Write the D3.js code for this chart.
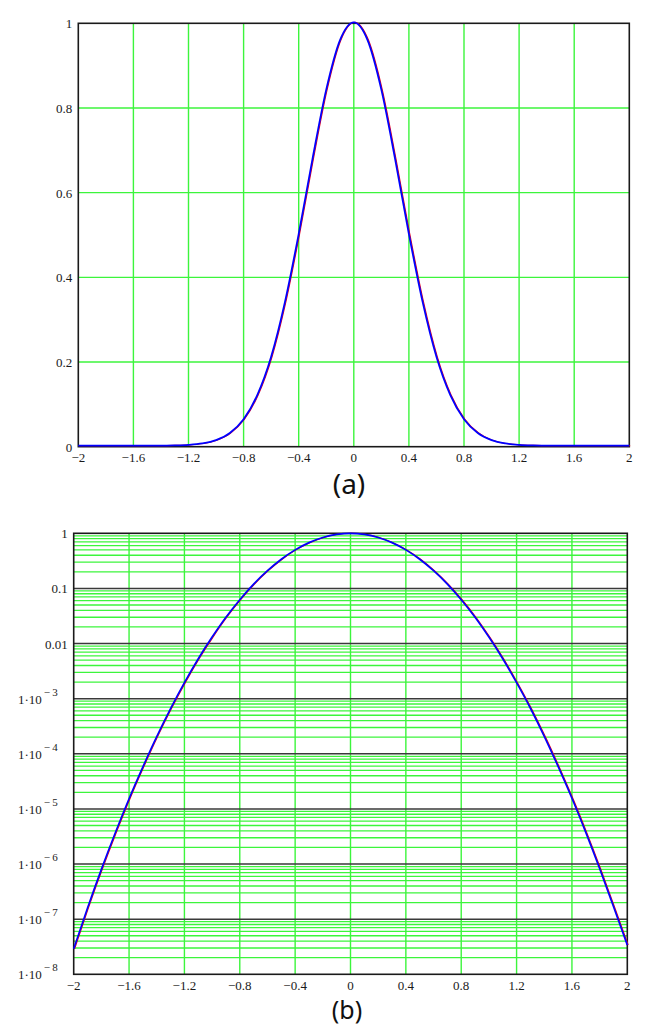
<!DOCTYPE html>
<meta charset='utf-8'>
<style>
	body { margin: 0; background: #fff; }
	svg { display: block; }
	.tick-label { font-family: 'Liberation Serif', serif; font-size: 13px; fill: #1a1a1a; }
	.caption { font-family: 'Noto Sans', 'Open Sans', sans-serif; font-size: 28px; fill: #111; }
</style>
<body>
	<div id='container'></div>
<script src='https://d3js.org/d3.v7.min.js'></script>
<script>
	// x positions of the readings (same for both panels)
	const xVals = [
		-2.0, -1.9, -1.8, -1.7, -1.6, -1.5, -1.4, -1.3, -1.2, -1.1, -1.0,
		-0.9, -0.8, -0.7, -0.6, -0.5, -0.4, -0.3, -0.2, -0.1, 0.0,
		0.1, 0.2, 0.3, 0.4, 0.5, 0.6, 0.7, 0.8, 0.9, 1.0,
		1.1, 1.2, 1.3, 1.4, 1.5, 1.6, 1.7, 1.8, 1.9, 2.0,
	];
	// curve values (linear top, log bottom)
	const yVals = [
		2.9e-8, 1.6e-7, 8.0e-7, 3.65e-6, 1.53e-5, 5.8e-5, 2.05e-4, 6.6e-4, 1.95e-3, 5.3e-3, 0.0131,
		0.030, 0.0625, 0.120, 0.210, 0.339, 0.500, 0.677, 0.841, 0.958, 1.0,
		0.958, 0.841, 0.677, 0.500, 0.339, 0.210, 0.120, 0.0625, 0.030, 0.0131,
		5.3e-3, 1.95e-3, 6.7e-4, 2.08e-4, 5.9e-5, 1.56e-5, 3.75e-6, 8.3e-7, 1.7e-7, 3.4e-8,
	];

	const xTicks = [ -2, -1.6, -1.2, -0.8, -0.4, 0, 0.4, 0.8, 1.2, 1.6, 2 ];
	const xTickLabels = [ '\u22122', '\u22121.6', '\u22121.2', '\u22120.8', '\u22120.4', '0', '0.4', '0.8', '1.2', '1.6', '2' ];
	const linTicks = [ 0, 0.2, 0.4, 0.6, 0.8, 1 ];
	const linTickLabels = [ '0', '0.2', '0.4', '0.6', '0.8', '1' ];
	const logDecades = [ 1, 0.1, 0.01, 1e-3, 1e-4, 1e-5, 1e-6, 1e-7, 1e-8 ];
	const logTickLabels = [ '1', '0.1', '0.01', '-3', '-4', '-5', '-6', '-7', '-8' ];
	const minorMults = [ 2, 3, 4, 5, 6, 7, 8, 9 ];

	const W = 648, H = 1026;
	const green = '#3cf53c', frame = '#1a1a1a', major = '#3a3a3a';

	const points = xVals.map( ( x, i ) => ( { x: x, y: yVals[ i ] } ) );

	const svg = d3.select( '#container' )
		.append( 'svg' )
		.attr( 'width', W )
		.attr( 'height', H );

	// ---------- panel (a): linear ----------
	const a = { left: 78.3, right: 629.3, top: 23.3, bottom: 446.7 };
	const xA = d3.scaleLinear().domain( [-2, 2] ).range( [a.left, a.right] );
	const yA = d3.scaleLinear().domain( [0, 1] ).range( [a.bottom, a.top] );

	const gA = svg.append( 'g' ).attr( 'class', 'panel-a' );

	gA.selectAll( '.vgrid' )
		.data( xTicks.slice( 1, -1 ) )
		.enter().append( 'line' )
			.attr( 'x1', d => xA( d ) ).attr( 'x2', d => xA( d ) )
			.attr( 'y1', a.top ).attr( 'y2', a.bottom )
			.style( 'stroke', green ).style( 'stroke-width', 1.4 );

	gA.selectAll( '.hgrid' )
		.data( linTicks.slice( 1, -1 ) )
		.enter().append( 'line' )
			.attr( 'x1', a.left ).attr( 'x2', a.right )
			.attr( 'y1', d => yA( d ) ).attr( 'y2', d => yA( d ) )
			.style( 'stroke', green ).style( 'stroke-width', 1.4 );

	gA.append( 'rect' )
		.attr( 'x', a.left ).attr( 'y', a.top )
		.attr( 'width', a.right - a.left ).attr( 'height', a.bottom - a.top )
		.style( 'fill', 'none' ).style( 'stroke', frame ).style( 'stroke-width', 1.6 );

	const lineA = d3.line()
		.curve( d3.curveMonotoneX )
		.x( d => xA( d.x ) )
		.y( d => yA( d.y ) );

	gA.append( 'path' )
		.attr( 'd', lineA( points ) )
		.attr( 'transform', 'translate( 0.9, -1 )' )
		.style( 'fill', 'none' ).style( 'stroke', '#e8001a' ).style( 'stroke-width', 1.1 );
	gA.append( 'path' )
		.attr( 'd', lineA( points ) )
		.attr( 'transform', 'translate( 0, -1 )' )
		.style( 'fill', 'none' ).style( 'stroke', '#0000ff' ).style( 'stroke-width', 1.8 );

	gA.selectAll( '.ylab' )
		.data( linTicks )
		.enter().append( 'text' )
			.attr( 'class', 'tick-label' )
			.attr( 'x', a.left - 6 )
			.attr( 'y', d => yA( d ) + 5 )
			.style( 'text-anchor', 'end' )
			.text( ( d, i ) => linTickLabels[ i ] );

	gA.selectAll( '.xlab' )
		.data( xTicks )
		.enter().append( 'text' )
			.attr( 'class', 'tick-label' )
			.attr( 'x', d => xA( d ) )
			.attr( 'y', a.bottom + 15 )
			.style( 'text-anchor', 'middle' )
			.text( ( d, i ) => xTickLabels[ i ] );

	svg.append( 'text' )
		.attr( 'class', 'caption' )
		.attr( 'x', 349 ).attr( 'y', 494 )
		.style( 'text-anchor', 'middle' )
		.text( '(a)' );

	// ---------- panel (b): log ----------
	const b = { left: 73.7, right: 627.3, top: 533.3, bottom: 974.3 };
	const xB = d3.scaleLinear().domain( [-2, 2] ).range( [b.left, b.right] );
	const yB = d3.scaleLog().domain( [1e-8, 1] ).range( [b.bottom, b.top] );

	const gB = svg.append( 'g' ).attr( 'class', 'panel-b' );

	let minors = [];
	logDecades.slice( 1 ).forEach( dec => {
		minorMults.forEach( m => minors.push( dec * m ) );
	} );

	gB.selectAll( '.minor' )
		.data( minors )
		.enter().append( 'line' )
			.attr( 'x1', b.left ).attr( 'x2', b.right )
			.attr( 'y1', d => yB( d ) ).attr( 'y2', d => yB( d ) )
			.style( 'stroke', green ).style( 'stroke-width', 1.3 );

	gB.selectAll( '.vgrid' )
		.data( xTicks.slice( 1, -1 ) )
		.enter().append( 'line' )
			.attr( 'x1', d => xB( d ) ).attr( 'x2', d => xB( d ) )
			.attr( 'y1', b.top ).attr( 'y2', b.bottom )
			.style( 'stroke', green ).style( 'stroke-width', 1.4 );

	gB.selectAll( '.major' )
		.data( logDecades.slice( 1, -1 ) )
		.enter().append( 'line' )
			.attr( 'x1', b.left ).attr( 'x2', b.right )
			.attr( 'y1', d => yB( d ) ).attr( 'y2', d => yB( d ) )
			.style( 'stroke', major ).style( 'stroke-width', 1.4 );

	gB.append( 'rect' )
		.attr( 'x', b.left ).attr( 'y', b.top )
		.attr( 'width', b.right - b.left ).attr( 'height', b.bottom - b.top )
		.style( 'fill', 'none' ).style( 'stroke', frame ).style( 'stroke-width', 1.6 );

	const lineB = d3.line()
		.curve( d3.curveMonotoneX )
		.x( d => xB( d.x ) )
		.y( d => yB( d.y ) );

	gB.append( 'path' )
		.attr( 'd', lineB( points ) )
		.attr( 'transform', 'translate( 0.9, 0 )' )
		.style( 'fill', 'none' ).style( 'stroke', '#e8001a' ).style( 'stroke-width', 1.1 );
	gB.append( 'path' )
		.attr( 'd', lineB( points ) )
		.style( 'fill', 'none' ).style( 'stroke', '#0000ff' ).style( 'stroke-width', 1.7 );

	// y labels: plain decimals for the first three, 1·10^n for the rest
	const yLab = gB.selectAll( '.ylab' )
		.data( logDecades )
		.enter().append( 'text' )
			.attr( 'class', 'tick-label' )
			.attr( 'y', d => yB( d ) + 5 )
			.style( 'text-anchor', 'end' );

	yLab.each( function( d, i ) {
		let t = d3.select( this );
		if ( i < 3 ) {
			t.attr( 'x', b.left - 6 ).text( logTickLabels[ i ] );
		} else {
			t.attr( 'x', b.left - 16 );
			t.append( 'tspan' ).text( '1\u00b710' );
			t.append( 'tspan' )
				.attr( 'dx', 2 )
				.attr( 'dy', -8 )
				.style( 'font-size', '11px' )
				.text( '\u2212\u2009' + logTickLabels[ i ].slice( 1 ) );
		}
	} );

	gB.selectAll( '.xlab' )
		.data( xTicks )
		.enter().append( 'text' )
			.attr( 'class', 'tick-label' )
			.attr( 'x', d => xB( d ) )
			.attr( 'y', b.bottom + 16 )
			.style( 'text-anchor', 'middle' )
			.text( ( d, i ) => xTickLabels[ i ] );

	svg.append( 'text' )
		.attr( 'class', 'caption' )
		.attr( 'x', 347 ).attr( 'y', 1019 )
		.style( 'text-anchor', 'middle' )
		.style( 'font-size', '25px' )
		.text( '(b)' );
</script>
</body>
